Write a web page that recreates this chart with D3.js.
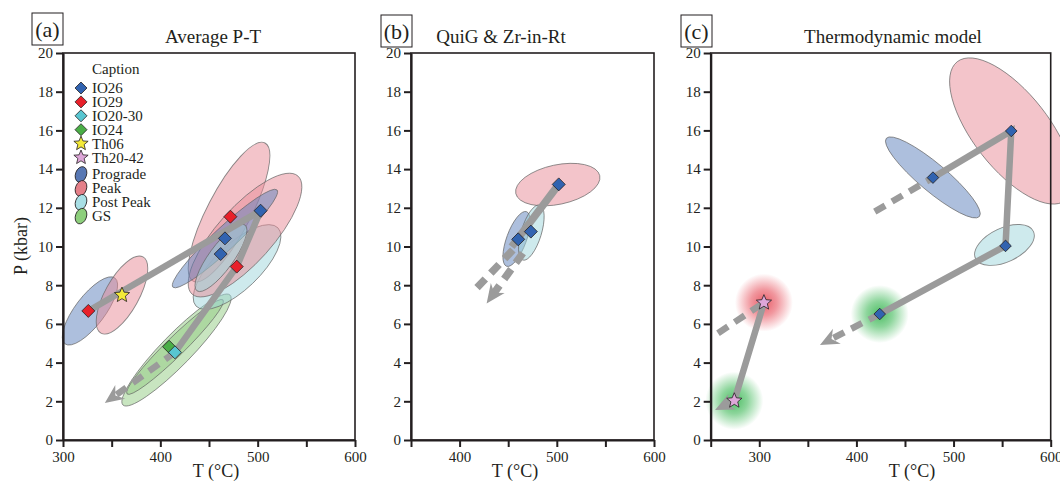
<!DOCTYPE html>
<html lang="en">
<head>
<meta charset="UTF-8">
<title>P-T paths</title>
<script src="https://d3js.org/d3.v7.min.js"></script>
<style>
  body { margin: 0; background: #fff; }
  svg { display: block; font-family: "Liberation Serif", "Times New Roman", serif; }
  .axis text { font-size: 15px; fill: #231f20; font-family: "Liberation Serif", serif; }
  .axis line { stroke: #231f20; stroke-width: 2; }
  .axis path { stroke: #231f20; stroke-width: 2.2; }
</style>
</head>
<body>
<svg id="chart" width="1060" height="481"></svg>
<script>
// ---- data ----
const panelTags = ["(a)", "(b)", "(c)"];
const panelTitles = ["Average P-T", "QuiG & Zr-in-Rt", "Thermodynamic model"];
const xDomains = [[300, 600], [350, 600], [250, 600]];
const xTicks = [
  [300, 350, 400, 450, 500, 550, 600],
  [350, 400, 450, 500, 550, 600],
  [250, 300, 350, 400, 450, 500, 550, 600]
];
const yTicks = [0, 2, 4, 6, 8, 10, 12, 14, 16, 18, 20];

const samples = ["IO26", "IO29", "IO20-30", "IO24", "Th06", "Th20-42"];
const stages = ["Prograde", "Peak", "Post Peak", "GS"];

// markers: [sample, T, P]
const markersA = [
  ["IO29", 326, 6.67], ["Th06", 360.6, 7.49],
  ["IO26", 466.4, 10.42], ["IO26", 462, 9.61], ["IO26", 503, 11.85],
  ["IO29", 472, 11.54], ["IO29", 478.5, 8.96],
  ["IO24", 409, 4.82], ["IO20-30", 415, 4.53]
];
const markersB = [["IO26", 502, 13.21], ["IO26", 473.3, 10.77], ["IO26", 460.3, 10.37]];
const markersC = [
  ["IO26", 559.4, 15.97], ["IO26", 478.8, 13.56], ["IO26", 553.5, 10.03], ["IO26", 424, 6.51],
  ["Th20-42", 304.8, 7.1], ["Th20-42", 274.3, 2.03]
];

// ellipses: [stage, centre T, centre P, major-axis tip T, tip P, minor/major ratio]
const ellipsesA = [
  ["Prograde", 327.7, 6.67, 353.4, 8.37, 0.36],
  ["Peak", 360.6, 7.49, 382.2, 9.46, 0.39],
  ["GS", 416.6, 4.65, 471.6, 7.49, 0.2],
  ["GS", 415.1, 4.81, 464.4, 7.24, 0.14],
  ["Post Peak", 478.8, 8.94, 520.9, 10.96, 0.4],
  ["Peak", 470.6, 11.78, 507.5, 15.35, 0.28],
  ["Peak", 487, 10.59, 541.4, 13.64, 0.35],
  ["Prograde", 466.4, 10.41, 519.9, 12.92, 0.16],
  ["Post Peak", 462.3, 9.41, 487, 11.11, 0.3]
];
const ellipsesB = [
  ["Peak", 501, 13.2, 544.2, 13.66, 0.46],
  ["Prograde", 458.6, 10.39, 468.9, 11.8, 0.34],
  ["Post Peak", 473.8, 10.72, 482.5, 12.14, 0.35]
];
const ellipsesC = [
  ["Prograde", 478.7, 13.57, 430.8, 15.59, 0.23],
  ["Peak", 559.6, 15.97, 503.8, 19.55, 0.43],
  ["Post Peak", 552.4, 10.08, 582.2, 10.78, 0.53]
];

// diffuse blobs (panel c): [stage, T, P]
const blobsC = [["Peak", 304.8, 7.1], ["GS", 274.3, 2.03], ["GS", 424, 6.51]];

// P-T paths: points [T, P], dashed?, arrow at end?
const pathsA = [
  { pts: [[326, 6.67], [503, 11.85]], dashed: false, arrow: false },
  { pts: [[503, 11.85], [478.5, 8.96], [415, 4.53]], dashed: false, arrow: false },
  { pts: [[415, 4.53], [343, 1.91]], dashed: true, arrow: true }
];
const pathsB = [
  { pts: [[502, 13.21], [453.5, 9.99]], dashed: false, arrow: false },
  { pts: [[454.8, 9.82], [412.4, 7.58]], dashed: true, arrow: false },
  { pts: [[465.1, 9.66], [427.8, 7.06]], dashed: true, arrow: true }
];
const pathsC = [
  { pts: [[418.9, 11.8], [478.8, 13.56]], dashed: true, arrow: false },
  { pts: [[478.8, 13.56], [559.4, 15.97], [553.5, 10.03], [424, 6.51]], dashed: false, arrow: false },
  { pts: [[424, 6.51], [362.5, 4.91]], dashed: true, arrow: true },
  { pts: [[257.5, 5.52], [304.8, 7.1]], dashed: true, arrow: false },
  { pts: [[304.8, 7.1], [274.3, 2.03], [254.5, 1.55]], dashed: false, arrow: true }
];

// ---- styles ----
const sampleColor = {
  "IO26": "#3163b0", "IO29": "#e8202a", "IO20-30": "#58c6d1",
  "IO24": "#4aae46", "Th06": "#f4ea38", "Th20-42": "#dda6d8"
};
const stageFill = { "Prograde": "#5b7fbb", "Peak": "#e88a96", "Post Peak": "#9dd6db", "GS": "#92cc82" };
const stageLegend = { "Prograde": "#5878b4", "Peak": "#e47f88", "Post Peak": "#a8dfe5", "GS": "#8dcf7c" };
const blobColor = { "Peak": "#e5424f", "GS": "#2fb34a" };
const pathColor = "#9b9b9b";

const layout = [
  { left: 63, right: 355, titleX: 213, tagX: 32, tagY: 13, tX: 216, dia: 6.5, lw: 6.5 },
  { left: 411, right: 654, titleX: 501, tagX: 381, tagY: 15, tX: 515, dia: 6.5, lw: 7.5 },
  { left: 710.7, right: 1050.7, titleX: 893, tagX: 681, tagY: 15, tX: 912, dia: 5.8, lw: 6.5 }
];
const plotTop = 53, plotBottom = 440;

const svg = d3.select("#chart");
const y = d3.scaleLinear().domain([0, 20]).range([plotBottom, plotTop]);

const defs = svg.append("defs");
Object.keys(blobColor).forEach(k => {
  const g = defs.append("radialGradient").attr("id", "blob-" + k.replace(" ", ""));
  g.append("stop").attr("offset", "0%").attr("stop-color", blobColor[k]).attr("stop-opacity", 0.85);
  g.append("stop").attr("offset", "45%").attr("stop-color", blobColor[k]).attr("stop-opacity", 0.55);
  g.append("stop").attr("offset", "100%").attr("stop-color", blobColor[k]).attr("stop-opacity", 0);
});

function starPath(R, r) {
  let d = "";
  for (let i = 0; i < 10; i++) {
    const rad = i % 2 === 0 ? R : r;
    const a = -Math.PI / 2 + i * Math.PI / 5;
    d += (i === 0 ? "M" : "L") + (rad * Math.cos(a)).toFixed(2) + "," + (rad * Math.sin(a)).toFixed(2);
  }
  return d + "Z";
}
const diamondPath = s => `M0,${-s}L${s},0L0,${s}L${-s},0Z`;
const arrowPath = "M0,0L-19,-8.5L-13,0L-19,8.5Z";

function drawPanel(i, ellipses, blobs, paths, markers) {
  const L = layout[i];
  const x = d3.scaleLinear().domain(xDomains[i]).range([L.left, L.right]);
  const g = svg.append("g");

  // blobs
  g.selectAll(".blob").data(blobs).enter().append("circle")
    .attr("cx", d => x(d[1])).attr("cy", d => y(d[2])).attr("r", 29)
    .attr("fill", d => `url(#blob-${d[0].replace(" ", "")})`);

  // ellipses
  g.selectAll(".ell").data(ellipses).enter().append("ellipse")
    .each(function (d) {
      const cx = x(d[1]), cy = y(d[2]), tx = x(d[3]), ty = y(d[4]);
      const a = Math.hypot(tx - cx, ty - cy);
      const ang = Math.atan2(ty - cy, tx - cx) * 180 / Math.PI;
      d3.select(this).attr("rx", a).attr("ry", a * d[5])
        .attr("transform", `translate(${cx},${cy}) rotate(${ang})`);
    })
    .attr("fill", d => stageFill[d[0]]).attr("fill-opacity", 0.5)
    .attr("stroke", "#666").attr("stroke-opacity", 0.75).attr("stroke-width", 0.9);

  // paths
  const line = d3.line().x(d => x(d[0])).y(d => y(d[1]));
  paths.forEach(p => {
    const px = p.pts.map(d => [x(d[0]), y(d[1])]);
    const n = px.length;
    const tip = px[n - 1], prev = px[n - 2];
    const ang = Math.atan2(tip[1] - prev[1], tip[0] - prev[0]);
    const linePts = p.pts.slice();
    if (p.arrow) {
      // stop the stroke inside the arrowhead
      const back = [tip[0] - 12 * Math.cos(ang), tip[1] - 12 * Math.sin(ang)];
      linePts[n - 1] = [x.invert(back[0]), y.invert(back[1])];
    }
    g.append("path").datum(linePts).attr("d", line)
      .attr("fill", "none").attr("stroke", pathColor).attr("stroke-width", L.lw)
      .attr("stroke-linejoin", "miter")
      .attr("stroke-dasharray", p.dashed ? "12,8" : null);
    if (p.arrow) {
      g.append("path").attr("d", arrowPath)
        .attr("transform", `translate(${tip[0]},${tip[1]}) rotate(${ang * 180 / Math.PI})`)
        .attr("fill", pathColor);
    }
  });

  // markers
  g.selectAll(".mk").data(markers).enter().append("path")
    .attr("d", d => d[0].startsWith("Th") ? starPath(8, 3.6) : diamondPath(L.dia))
    .attr("transform", d => `translate(${x(d[1])},${y(d[2])})`)
    .attr("fill", d => sampleColor[d[0]])
    .attr("stroke", "#231f20").attr("stroke-width", 0.8);

  // axes
  svg.append("g").attr("class", "axis")
    .attr("transform", `translate(0,${plotBottom})`)
    .call(d3.axisBottom(x).tickValues(xTicks[i]).tickSize(7).tickSizeOuter(0).tickPadding(4)
      .tickFormat(d => d % 100 === 0 && d !== xDomains[i][0] || (i === 0 && d === 300) ? d : ""));
  svg.append("g").attr("class", "axis")
    .attr("transform", `translate(${L.left},0)`)
    .call(d3.axisLeft(y).tickValues(yTicks).tickSize(7).tickSizeOuter(0).tickPadding(3));

  svg.append("rect")
    .attr("x", L.left).attr("y", plotTop)
    .attr("width", L.right - L.left).attr("height", plotBottom - plotTop)
    .attr("fill", "none").attr("stroke", "#231f20").attr("stroke-width", 1.6);

  // titles
  svg.append("text").attr("x", L.titleX).attr("y", 43).attr("text-anchor", "middle")
    .attr("font-size", 19).attr("fill", "#231f20").text(panelTitles[i]);
  svg.append("rect").attr("x", L.tagX).attr("y", L.tagY).attr("width", 31).attr("height", 32)
    .attr("fill", "#fff").attr("stroke", "#231f20").attr("stroke-width", 1);
  svg.append("text").attr("x", L.tagX + 15.5).attr("y", L.tagY + 24).attr("text-anchor", "middle")
    .attr("font-size", 22).attr("fill", "#231f20").text(panelTags[i]);
  svg.append("text").attr("x", L.tX).attr("y", 477).attr("text-anchor", "middle")
    .attr("font-size", 18).attr("fill", "#231f20").text("T (°C)");
}

drawPanel(0, ellipsesA, [], pathsA, markersA);
drawPanel(1, ellipsesB, [], pathsB, markersB);
drawPanel(2, ellipsesC, blobsC, pathsC, markersC);

svg.append("text").attr("transform", "translate(27,246) rotate(-90)")
  .attr("text-anchor", "middle").attr("font-size", 18).attr("fill", "#231f20").text("P (kbar)");

// legend (panel a)
const lg = svg.append("g").attr("font-size", 15).attr("fill", "#231f20");
lg.append("text").attr("x", 92).attr("y", 74).text("Caption");
const rowY = i => 88 + i * 13.9 + (i >= samples.length ? 3 : 0);
samples.forEach((s, i) => {
  lg.append("path")
    .attr("d", s.startsWith("Th") ? starPath(7.5, 3.3) : diamondPath(6))
    .attr("transform", `translate(81,${rowY(i)})`)
    .attr("fill", sampleColor[s]).attr("stroke", "#231f20").attr("stroke-width", 0.8);
  lg.append("text").attr("x", 92).attr("y", rowY(i) + 5).text(s);
});
stages.forEach((s, j) => {
  const i = samples.length + j;
  lg.append("ellipse").attr("rx", 5.5).attr("ry", 8)
    .attr("transform", `translate(81,${rowY(i)}) rotate(20)`)
    .attr("fill", stageLegend[s]).attr("stroke", "#231f20").attr("stroke-width", 0.8);
  lg.append("text").attr("x", 92).attr("y", rowY(i) + 5).text(s);
});
</script>
</body>
</html>
